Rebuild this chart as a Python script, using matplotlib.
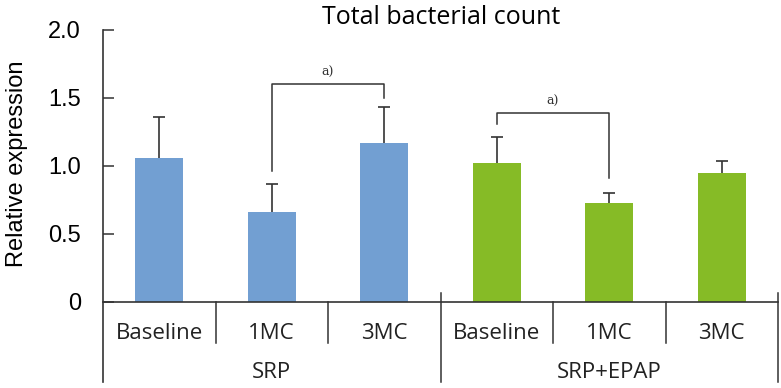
import matplotlib.pyplot as plt
import matplotlib.transforms as mtransforms
import numpy as np

# data
groups = ['SRP', 'SRP+EPAP']
categories = ['Baseline', '1MC', '3MC', 'Baseline', '1MC', '3MC']
values = [1.06, 0.665, 1.17, 1.025, 0.73, 0.95]
errors = [0.30, 0.205, 0.265, 0.19, 0.075, 0.09]
bar_colors = ['#729fd2'] * 3 + ['#86bb26'] * 3
# significance brackets: (left bar, right bar, top, left leg end, right leg end)
brackets = [(1, 2, 1.60, 0.965, 1.50), (3, 4, 1.39, 1.31, 0.91)]
yticks = [0, 0.5, 1.0, 1.5, 2.0]
ytick_labels = ['0', '0.5', '1.0', '1.5', '2.0']

W, H = 781, 388
fig = plt.figure(figsize=(W / 100, H / 100), dpi=100)
ax = fig.add_axes([103 / W, (H - 302) / H, (778 - 103) / W, (302 - 30) / H])

x = np.arange(len(categories))
ink = '#333333'

eb = ax.errorbar(x, values, yerr=[np.zeros(len(x)), errors], fmt='none',
                 ecolor=ink, elinewidth=1.2, capsize=4, capthick=1.2, zorder=1)
eb[1][0].set_visible(False)  # no lower caps
ax.bar(x, values, width=0.43, color=bar_colors, zorder=2)

for (i, j, top, yl, yr) in brackets:
    ax.plot([i, i, j, j], [yl, top, top, yr], color=ink, lw=1.1, zorder=3)
    ax.text((i + j) / 2, top + 0.04, 'a)', ha='center', va='bottom',
            fontsize=9, family='DejaVu Serif', color=ink)

ax.set_xlim(-0.5, 5.5)
ax.set_ylim(0, 2.0)
for s in ['top', 'right', 'left']:
    ax.spines[s].set_visible(False)
ax.spines['bottom'].set_color(ink)
ax.spines['bottom'].set_linewidth(1.2)

ax.set_xticks([])
ax.set_yticks(yticks)
ax.set_yticklabels(ytick_labels, family='Liberation Sans', fontsize=17)
ax.tick_params(axis='y', direction='in', length=8, width=1.1, color=ink, pad=16)

trans = mtransforms.blended_transform_factory(ax.transData, ax.transAxes)
# left axis line and dividers
ax.plot([-0.5, -0.5], [-0.294, 1.0], transform=trans, color=ink, lw=1.2, clip_on=False)
for d in [0.5, 1.5, 3.5, 4.5]:
    ax.plot([d, d], [0, -0.151], transform=trans, color=ink, lw=1.1, clip_on=False)
for d in [2.5, 5.5]:
    ax.plot([d, d], [0.033, -0.294], transform=trans, color=ink, lw=1.1, clip_on=False)

for xi, lab in zip(x, categories):
    ax.text(xi, -0.114, lab, transform=trans, ha='center', va='center',
            fontsize=16, family='Open Sans', color='#222222')
for gi, g in enumerate(groups):
    ax.text(gi * 3 + 1, -0.26, g, transform=trans, ha='center', va='center',
            fontsize=16, family='Open Sans', color='#222222')

ax.set_ylabel('Relative expression', family='Liberation Sans', fontsize=17)
ax.yaxis.set_label_coords((28 - 103) / 675, (302 - 164) / 272)
ax.set_title('Total bacterial count', family='Open Sans', fontsize=18, pad=3, x=(441 - 103) / 675)

fig.savefig('out.png', dpi=100)
